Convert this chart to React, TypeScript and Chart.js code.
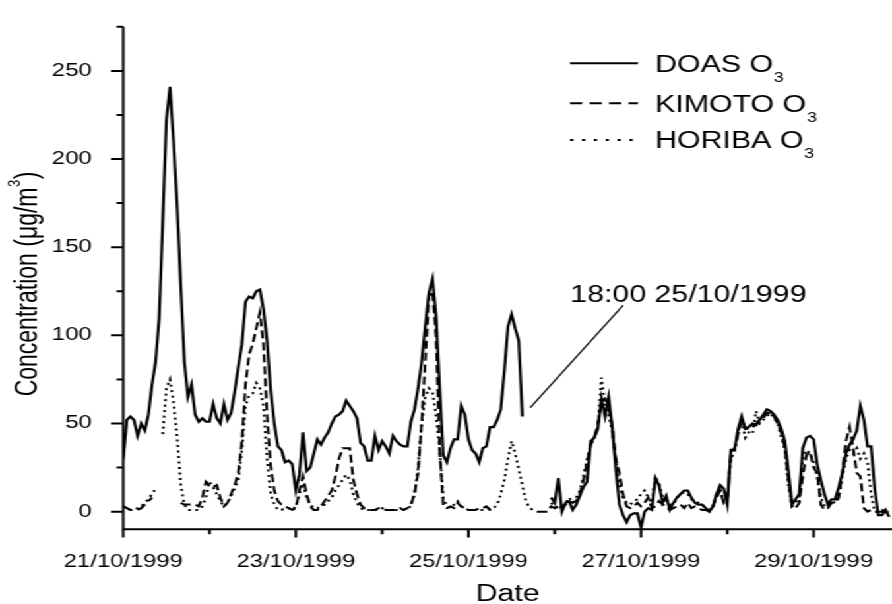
import React, { useEffect, useRef } from 'react';
import { Chart, registerables } from 'chart.js';

Chart.register(...registerables);

// ---------- data (hourly values, hour 0 = 21/10/1999 00:00) ----------
const doasO3: (number | null)[] = [
  30, 52, 54, 52, 43, 50, 46, 55, 72, 85, 110, 165,
  222, 241, 210, 173, 128, 85, 65, 72, 55, 51, 53, 51,
  51, 61, 53, 50, 61, 52, 56, 68, 82, 95, 119, 122,
  121, 125, 126, 115, 97, 69, 50, 37, 35, 28, 29, 27,
  12, 21, 45, 23, 25, 33, 41, 38, 42, 45, 50, 54,
  55, 57, 63, 60, 57, 53, 39, 37, 29, 29, 43, 35,
  40, 37, 33, 43, 40, 38, 37, 37, 51, 58, 70, 85,
  105, 124, 132, 111, 70, 32, 28, 36, 41, 41, 60, 55,
  41, 35, 33, 28, 36, 37, 48, 48, 52, 58, 80, 105,
  112, 104, 97, 54, null, null, null, null, null, null, null, 8,
  5, 19, 0, 5, 6, 1, 4, 9, 14, 17, 40, 42,
  47, 64, 54, 65, 48, 24, 4, -2, -6, -2, -1, -1,
  -9, 0, 2, 1, 19, 15, 5, 9, 1, 5, 8, 10,
  12, 12, 8, 5, 4, 4, 2, 0, 3, 10, 15, 13,
  4, 35, 35, 47, 54, 47, 48, 50, 49, 52, 55, 58,
  57, 55, 52, 47, 40, 23, 4, 7, 10, 36, 42, 43,
  41, 27, 18, 10, 4, 7, 7, 14, 22, 33, 38, 41,
  46, 60, 52, 37, 37, 13, -2, -2, 1, -3,
];

const kimotoO3: (number | null)[] = [
  3, 2, 1, 1, 1, 2, 4, 6, 8, null, null, null,
  null, null, null, null, 5, 4, 4, 4, 4, 3, 8, 17,
  15, 14, 15, 8, 3, 5, 10, 15, 22, 40, 72, 89,
  95, 104, 113, 95, 55, 26, 12, 6, 4, 3, 2, 1,
  2, 12, 20, 10, 3, 1, 1, 3, 6, 9, 12, 20,
  30, 36, 36, 36, 18, 10, 4, 2, 1, 1, 1, 2,
  2, 1, 1, 1, 1, 2, 1, 2, 4, 10, 22, 50,
  85, 122, 125, 100, 35, 3, 2, 3, 2, 5, 3, 2,
  1, 1, 1, 2, 2, 3, 1, 1, null, null, null, null,
  null, null, null, null, null, null, null, 0, 0, 0, 0, 3,
  2, 4, 2, 4, 6, 5, 6, 10, 18, 28, 38, 42,
  50, 62, 64, 60, 48, 30, 22, 10, 3, 2, 3, 5,
  3, 5, 8, 2, 3, 6, 4, 3, 1, 2, 3, 4,
  2, 5, 2, 3, 2, 1, 1, 0, 3, 8, 12, 5,
  8, 33, 36, 44, 52, 47, 47, 48, 50, 52, 53, 56,
  56, 54, 50, 45, 36, 18, 3, 2, 5, 20, 32, 34,
  25, 22, 4, 1, 2, 5, 5, 8, 22, 40, 48, 36,
  22, 20, 2, 0, 1, 0, 0, 0, 0, 0,
];

const horibaO3: (number | null)[] = [
  3, 2, 1, 1, 2, 3, 5, 7, 10, 13, null, 44,
  70, 75, 62, 42, 15, 4, 1, 1, 1, 1, 3, 8,
  17, 14, 10, 6, 3, 5, 9, 13, 18, 35, 60, 66,
  67, 73, 70, 60, 30, 10, 4, 1, 1, 2, 2, 1,
  3, 10, 16, 8, 4, 2, 2, 3, 4, 6, 8, 12,
  15, 18, 21, 18, 10, 5, 2, 1, 1, 1, 1, 1,
  2, 1, 1, 1, 1, 1, 1, 2, 3, 10, 25, 50,
  65, 70, 68, 55, 35, 8, 3, 2, 4, 6, 3, 2,
  1, 1, 1, 1, 1, 1, 2, 2, 4, 10, 18, 30,
  40, 33, 24, 15, 6, 2, 1, null, null, null, null, 5,
  3, 2, 3, 5, 8, 5, 8, 12, 20, 30, 38, 42,
  48, 76, 60, 55, 45, 30, 15, 8, 5, 4, 6, 7,
  10, 12, 8, 5, 20, 16, 8, 6, 4, 4, 8, 10,
  11, 10, 7, 6, 5, 4, 2, 1, 3, 10, 12, 5,
  8, 30, 34, 45, 52, 42, 45, 44, 57, 50, 52, 54,
  56, 53, 50, 42, 35, 15, 3, 5, 8, 30, 35, 33,
  28, 20, 8, 3, 4, 6, 5, 8, 20, 30, 35, 33,
  36, 30, 33, 28, 10, 0, 0, 1, 0, 0,
];

const seriesNames = ['DOAS O', 'KIMOTO O', 'HORIBA O'];
const xMajorHours = [0, 48, 96, 144, 192];
const xMajorLabels = ['21/10/1999', '23/10/1999', '25/10/1999', '27/10/1999', '29/10/1999'];
const xMinorHours = [24, 72, 120, 168];
const yMajor = [0, 50, 100, 150, 200, 250];
const yMinor = [25, 75, 125, 175, 225, 275];
const annotationText = '18:00 25/10/1999';
const annotationFrom = { x: 113.2, y: 59 };
const annotationTo = { x: 139, y: 117 };
const annotationTextAt = { x: 124.3, y: 118.7 };

// ---------- layout ----------
const FONT = '"Liberation Sans", Arial, Helvetica, sans-serif';
const W = 676;
const H = 604;
const STRETCH = 892 / W;

const toPoints = (arr: (number | null)[]) => arr.map((v, i) => ({ x: i, y: v }));

const overlayPlugin = {
  id: 'overlay',
  afterDraw(chart: any) {
    const { ctx, chartArea } = chart;
    const xs = chart.scales.x;
    const ys = chart.scales.y;
    const { left, right, top, bottom } = chartArea;
    ctx.save();
    ctx.strokeStyle = '#000';
    ctx.fillStyle = '#000';
    ctx.lineCap = 'butt';
    ctx.lineJoin = 'miter';

    // axes
    ctx.lineWidth = 2;
    ctx.beginPath();
    ctx.moveTo(left, top);
    ctx.lineTo(left, bottom);
    ctx.lineTo(right, bottom);
    ctx.stroke();

    // y ticks
    ctx.beginPath();
    yMajor.forEach((v) => {
      const p = ys.getPixelForValue(v);
      ctx.moveTo(left - 9.3, p);
      ctx.lineTo(left, p);
    });
    yMinor.forEach((v) => {
      const p = ys.getPixelForValue(v);
      ctx.moveTo(left - 5, p);
      ctx.lineTo(left, p);
    });
    // x ticks
    xMajorHours.forEach((v) => {
      const p = xs.getPixelForValue(v);
      ctx.moveTo(p, bottom);
      ctx.lineTo(p, bottom + 8.3);
    });
    xMinorHours.forEach((v) => {
      const p = xs.getPixelForValue(v);
      ctx.moveTo(p, bottom);
      ctx.lineTo(p, bottom + 5);
    });
    ctx.stroke();

    // x title
    ctx.font = `23px ${FONT}`;
    ctx.textAlign = 'center';
    ctx.textBaseline = 'alphabetic';
    ctx.fillText('Date', (left + right) / 2, 601);

    // y title with superscript
    ctx.save();
    ctx.translate(27.8, 284);
    ctx.rotate(-Math.PI / 2);
    ctx.textAlign = 'left';
    const mainTxt = 'Concentration (\u03bcg/m';
    ctx.font = `23px ${FONT}`;
    const wMain = ctx.measureText(mainTxt).width;
    const wClose = ctx.measureText(')').width;
    ctx.font = `13px ${FONT}`;
    const wSup = ctx.measureText('3').width;
    const total = wMain + wSup + wClose + 1;
    let cx = -total / 2;
    ctx.font = `23px ${FONT}`;
    ctx.fillText(mainTxt, cx, 0);
    cx += wMain + 0.5;
    ctx.font = `13px ${FONT}`;
    ctx.fillText('3', cx, -13);
    cx += wSup + 0.5;
    ctx.font = `23px ${FONT}`;
    ctx.fillText(')', cx, 0);
    ctx.restore();

    // legend
    const legendY = [63.3, 103.3, 140];
    const dashes = [[], [9.3, 5.5], [2.5, 6.5]];
    const lx0 = 432;
    const lx1 = 483.5;
    const tx = 496.4;
    seriesNames.forEach((name, i) => {
      ctx.lineWidth = 2;
      ctx.setLineDash(dashes[i]);
      ctx.beginPath();
      ctx.moveTo(lx0, legendY[i]);
      ctx.lineTo(lx1, legendY[i]);
      ctx.stroke();
      ctx.setLineDash([]);
      const base = legendY[i] + 8.3;
      ctx.textAlign = 'left';
      ctx.font = `23px ${FONT}`;
      ctx.fillText(name, tx, base);
      const w = ctx.measureText(name).width;
      ctx.font = `14px ${FONT}`;
      ctx.fillText('3', tx + w + 0.5, base + 10);
    });

    // annotation
    ctx.lineWidth = 1.2;
    ctx.beginPath();
    ctx.moveTo(xs.getPixelForValue(annotationFrom.x), ys.getPixelForValue(annotationFrom.y));
    ctx.lineTo(xs.getPixelForValue(annotationTo.x), ys.getPixelForValue(annotationTo.y));
    ctx.stroke();
    ctx.font = `23px ${FONT}`;
    ctx.textAlign = 'left';
    ctx.fillText(annotationText, xs.getPixelForValue(annotationTextAt.x), ys.getPixelForValue(annotationTextAt.y));

    ctx.restore();
  },
};

export default function App() {
  const canvasRef = useRef<HTMLCanvasElement | null>(null);

  useEffect(() => {
    const canvas = canvasRef.current;
    if (!canvas) return;
    const common = {
      borderColor: '#000',
      backgroundColor: '#000',
      pointRadius: 0,
      pointHoverRadius: 0,
      tension: 0,
      spanGaps: false,
      fill: false,
    };
    const chart = new Chart(canvas, {
      type: 'line',
      data: {
        datasets: [
          { ...common, label: 'DOAS O3', data: toPoints(doasO3), borderWidth: 2.2 },
          { ...common, label: 'KIMOTO O3', data: toPoints(kimotoO3), borderWidth: 2, borderDash: [8, 4] },
          { ...common, label: 'HORIBA O3', data: toPoints(horibaO3), borderWidth: 2, borderDash: [2, 3.5] },
        ],
      },
      options: {
        responsive: false,
        maintainAspectRatio: false,
        animation: false,
        devicePixelRatio: 1,
        layout: { padding: { top: 14.3, left: 0, right: 0, bottom: 0 } },
        plugins: { legend: { display: false }, tooltip: { enabled: false } },
        events: [],
        scales: {
          x: {
            type: 'linear',
            min: 0,
            max: 213.8,
            grid: { display: false },
            border: { display: false },
            ticks: {
              font: { family: FONT, size: 18 },
              color: '#000',
              padding: 14,
              maxRotation: 0,
              autoSkip: false,
              callback: (v: any) => {
                const idx = xMajorHours.indexOf(Number(v));
                return idx >= 0 ? xMajorLabels[idx] : '';
              },
            },
            afterBuildTicks: (s: any) => {
              s.ticks = xMajorHours.map((v) => ({ value: v }));
            },
            afterFit: (s: any) => {
              s.height = 74.7;
            },
          },
          y: {
            type: 'linear',
            min: -10,
            max: 275,
            grid: { display: false },
            border: { display: false },
            ticks: {
              font: { family: FONT, size: 18 },
              color: '#000',
              padding: 16,
              callback: (v: any) => String(v),
            },
            afterBuildTicks: (s: any) => {
              s.ticks = yMajor.map((v) => ({ value: v }));
            },
            afterFit: (s: any) => {
              s.width = 93.4;
            },
          },
        },
      },
      plugins: [overlayPlugin],
    });
    return () => chart.destroy();
  }, []);

  return (
    <div
      style={{
        position: 'fixed',
        left: 0,
        top: 0,
        width: W,
        height: H,
        background: '#fff',
        transform: `scaleX(${STRETCH})`,
        transformOrigin: '0 0',
      }}
    >
      <canvas ref={canvasRef} width={W} height={H} style={{ display: 'block' }} />
    </div>
  );
}
